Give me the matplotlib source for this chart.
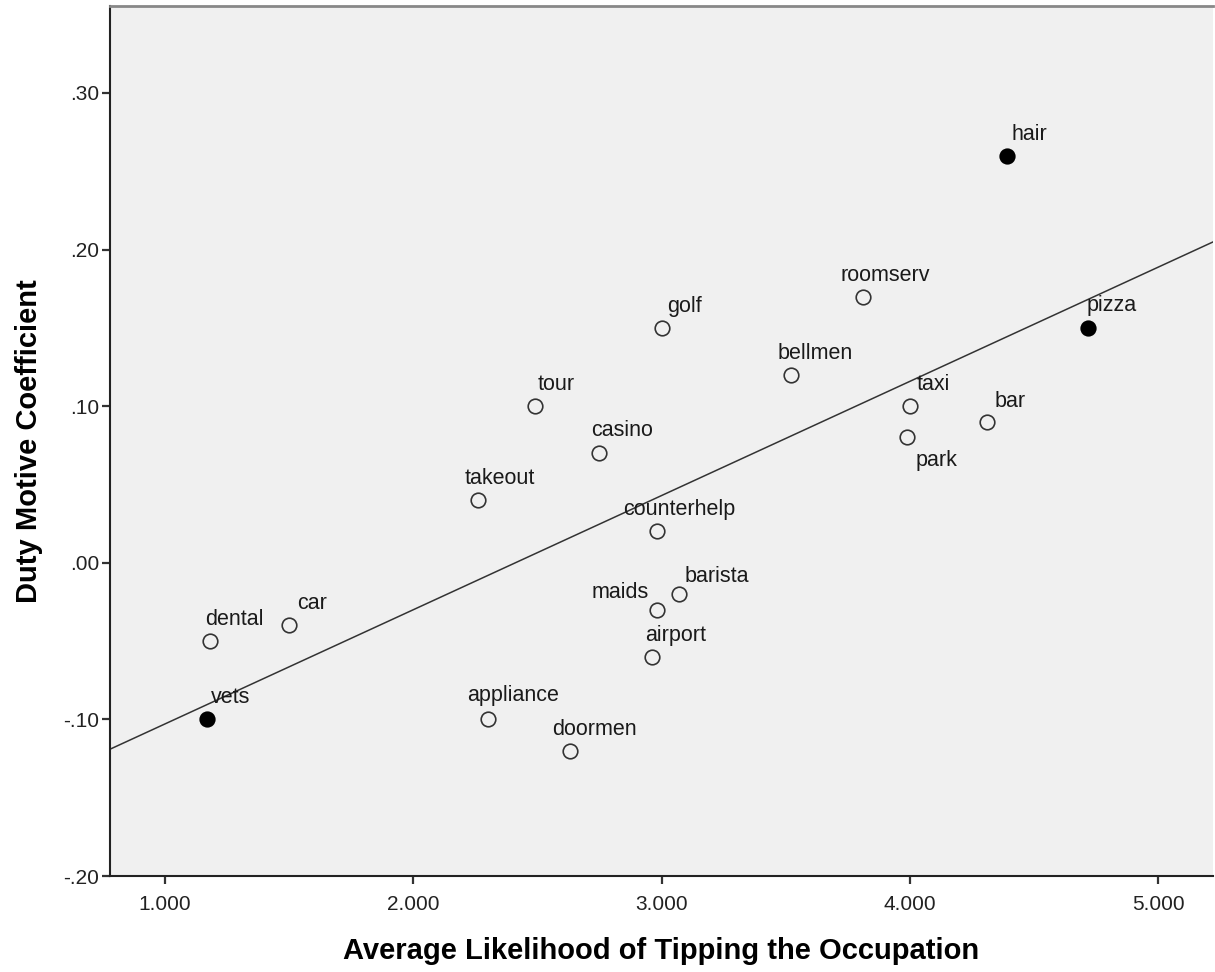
import matplotlib.pyplot as plt
from matplotlib.ticker import FuncFormatter

# Occupations and their values
occupations = ["hair", "pizza", "vets", "roomserv", "golf", "bellmen", "tour",
               "taxi", "bar", "park", "casino", "takeout", "counterhelp",
               "barista", "maids", "airport", "dental", "car", "appliance",
               "doormen"]
tipping = [4.39, 4.72, 1.17, 3.81, 3.00, 3.52, 2.49,
           4.00, 4.31, 3.99, 2.75, 2.26, 2.98,
           3.07, 2.98, 2.96, 1.18, 1.50, 2.30,
           2.63]
duty = [0.26, 0.15, -0.10, 0.17, 0.15, 0.12, 0.10,
        0.10, 0.09, 0.08, 0.07, 0.04, 0.02,
        -0.02, -0.03, -0.06, -0.05, -0.04, -0.10,
        -0.12]
highlighted = ["hair", "pizza", "vets"]

# fit line
fit_intercept = -0.1758
fit_slope = 0.0729

# label offsets in pixels (dx, dy up) and horizontal alignment
label_offsets = {
    "hair": (5, 16, "left"), "pizza": (-2, 17, "left"), "vets": (4, 16, "left"),
    "roomserv": (-22, 16, "left"), "golf": (6, 16, "left"),
    "bellmen": (-13, 16, "left"), "tour": (3, 16, "left"),
    "taxi": (7, 16, "left"), "bar": (8, 15, "left"), "park": (8, -29, "left"),
    "casino": (-8, 17, "left"), "takeout": (-13, 16, "left"),
    "counterhelp": (-33, 16, "left"), "barista": (6, 12, "left"),
    "maids": (-8, 12, "right"), "airport": (-6, 16, "left"),
    "dental": (-5, 16, "left"), "car": (8, 16, "left"),
    "appliance": (-21, 18, "left"), "doormen": (-18, 16, "left"),
}

plt.rcParams['font.family'] = ['Liberation Sans', 'DejaVu Sans']

fig = plt.figure(figsize=(12.15, 9.72), dpi=100)
ax = fig.add_axes([110 / 1215, 1 - 876 / 972, 1103 / 1215, 870 / 972])
ax.set_facecolor('#f0f0f0')

ax.set_xlim(0.7785, 5.2215)
ax.set_ylim(-0.20, 0.3555)

ax.axline((0, fit_intercept), slope=fit_slope, color='#333333', lw=1.1, zorder=2)

px = 0.72  # points per pixel at dpi 100
for name, xv, yv in zip(occupations, tipping, duty):
    filled = name in highlighted
    ax.plot(xv, yv, 'o', ms=10.5,
            mfc='black' if filled else 'none',
            mec='black' if filled else '#333333',
            mew=1.2, zorder=3)
    dx, dy, ha = label_offsets[name]
    ax.annotate(name, (xv, yv), xytext=(dx * px, dy * px),
                textcoords='offset points', ha=ha, va='baseline',
                fontsize=15.5, color='#1a1a1a', zorder=4)

ax.set_xticks([1, 2, 3, 4, 5])
ax.set_yticks([-0.2, -0.1, 0.0, 0.1, 0.2, 0.3])
ax.xaxis.set_major_formatter(FuncFormatter(lambda v, p: f"{v:.3f}"))
ax.yaxis.set_major_formatter(
    FuncFormatter(lambda v, p: f"{v:.2f}".replace("0.", ".")))
ax.tick_params(axis='both', direction='out', length=6, width=1.6,
               color='#333333', labelsize=15, labelcolor='#222222')
ax.tick_params(axis='x', pad=8)
ax.tick_params(axis='y', pad=2)

for side in ['left', 'bottom']:
    ax.spines[side].set_color('#222222')
    ax.spines[side].set_linewidth(1.5)
ax.spines['top'].set_color('#888888')
ax.spines['top'].set_linewidth(2)
ax.spines['right'].set_visible(False)

ax.set_xlabel('Average Likelihood of Tipping the Occupation',
              fontsize=21, fontweight='bold', labelpad=16)
ax.set_ylabel('Duty Motive Coefficient', fontsize=21, fontweight='bold',
              labelpad=14)

fig.savefig('out.png', dpi=100)
